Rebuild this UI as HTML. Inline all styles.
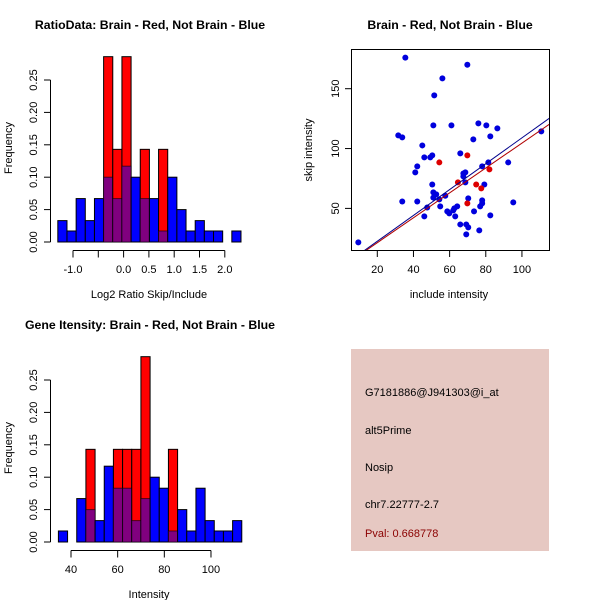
<!DOCTYPE html>
<html><head><meta charset="utf-8"><style>
html,body{margin:0;padding:0;background:#fff;}
svg{display:block;font-family:"Liberation Sans",Arial,sans-serif;}
</style></head><body>
<svg id="chart" width="600" height="600" viewBox="0 0 600 600" xmlns="http://www.w3.org/2000/svg">
<rect width="600" height="600" fill="#fff"/>
<g id="p1"></g>
<g id="p2"></g>
<g id="p3"></g>
<g id="p4">
<rect x="351" y="349" width="198" height="202" fill="#e6c8c2"/>
<text x="365" y="396" font-size="11" fill="#000">G7181886@J941303@i_at</text>
<text x="365" y="434" font-size="11" fill="#000">alt5Prime</text>
<text x="365" y="471" font-size="11" fill="#000">Nosip</text>
<text x="365" y="508" font-size="11" fill="#000">chr7.22777-2.7</text>
<text x="365" y="537" font-size="11" fill="#8b0000">Pval: 0.668778</text>
</g>
</svg>
<script>
const ratioBlue=[0.033,0.017,0.067,0.033,0.067,0.1,0.067,0.117,0.1,0.067,0.067,0.017,0.1,0.05,0.017,0.033,0.017,0.017,0,0.017];
const ratioRed=[0,0,0,0,0,0.286,0.143,0.286,0,0.143,0,0.143,0,0,0,0,0,0,0,0];
const ratioBreakStart=-1.3, ratioBinWidth=0.181;
const ratioXTicks=[-1.0,-0.5,0.0,0.5,1.0,1.5,2.0];
const ratioXLabels=["-1.0","","0.0","0.5","1.0","1.5","2.0"];
const intBlue=[0.017,0,0.067,0.05,0.033,0.117,0.083,0.083,0.033,0.067,0.1,0.083,0.017,0.05,0.017,0.083,0.033,0.017,0.017,0.033];
const intRed=[0,0,0,0.143,0,0,0.143,0.143,0.143,0.286,0,0,0.143,0,0,0,0,0,0,0];
const intBreakStart=34.6, intBinWidth=3.93;
const intXTicks=[40,60,80,100];
const freqTicks=[0,0.05,0.1,0.15,0.2,0.25];
const freqLabels=["0.00","0.05","0.10","0.15","0.20","0.25"];
const blueX=[9.5,35.5,69.8,56,51.5,51,61,75.9,80.3,86.4,82.5,73.1,31.6,33.8,44.9,46,49.3,50.4,65.9,81.4,92.4,110.7,42.1,41,78,67.6,68.7,67.6,50.4,79.2,68.7,51,52.6,51,54.3,33.8,42.1,70.3,78,78,76.9,95.2,54.8,47.6,64.2,62.6,62,58.7,59.8,63.1,73.5,46,82.5,65.9,69.2,70.3,76.4,69.2,57.6];
const blueY=[21.6,176,170,158.6,144.4,119.4,119.4,121,119.4,116.9,110.2,107.7,111,109.3,102.6,92.6,92.6,94.3,96,88.4,88.4,114.3,85.1,80.1,85.1,79.2,80.1,76.7,70,70,71.7,63.4,61.7,59,57.5,55.8,55.8,58.4,56.7,54.2,51.7,55,51.7,50.8,51.7,50,48.3,47.5,45.8,43.3,47.5,43.3,44.2,36.6,36.6,34.1,31.6,28.3,60.6];
const redX=[54.3,69.8,64.6,74.7,77.5,82,69.8];
const redY=[88.4,94.3,71.7,70,66.7,82.6,54.2];
const blueFit=[0.94,1.08];
const redFit=[0.54,1.04];
const scatXTicks=[20,40,60,80,100];
const scatYTicks=[50,100,150];

const NS="http://www.w3.org/2000/svg";
function mk(parent,tag,attrs,text){const e=document.createElementNS(NS,tag);for(const k in attrs)e.setAttribute(k,attrs[k]);if(text!==undefined)e.textContent=text;parent.appendChild(e);return e;}

function hist(g,oy,title,blue,red,start,w,xs,xT,xL,xlab){
  const y0=oy+242, py=(oy+242-(oy+80))/0.25;
  const Y=v=>y0-v*py;
  const X=v=>xs.a+(v-xs.v0)*xs.k;
  let t=mk(g,'text',{x:150,y:oy+29,'text-anchor':'middle','font-size':12.3,'font-weight':'bold'},title);
  
  
  for(let i=0;i<blue.length;i++){
    const x1=X(start+i*w), x2=X(start+(i+1)*w), b=blue[i], r=red[i];
    const hi=Math.max(b,r), lo=Math.min(b,r);
    if(hi>0){
      const r1=mk(g,'rect',{x:x1,y:Y(hi),width:x2-x1,height:Y(0)-Y(hi),fill:b>=r?'#0000ff':'#ff0000',stroke:'#000','stroke-width':1});
      
      
    }
    if(lo>0){
      const r2=mk(g,'rect',{x:x1,y:Y(lo),width:x2-x1,height:Y(0)-Y(lo),fill:'#80007f',stroke:'#000','stroke-width':1,'stroke-opacity':0.6});
      
      
    }
  }
  mk(g,'line',{x1:50.5,y1:Y(0),x2:50.5,y2:Y(0.25),stroke:'#000'});
  freqTicks.forEach((v,i)=>{
    mk(g,'line',{x1:44,y1:Y(v),x2:50.5,y2:Y(v),stroke:'#000'});
    const tl=mk(g,'text',{x:0,y:0,'font-size':11,'text-anchor':'middle',transform:`translate(37,${Y(v)}) rotate(-90)`},freqLabels[i]);
    
    
  });
  const xa=oy+250.5;
  mk(g,'line',{x1:X(xT[0]),y1:xa,x2:X(xT[xT.length-1]),y2:xa,stroke:'#000'});
  xT.forEach((v,i)=>{
    mk(g,'line',{x1:X(v),y1:xa,x2:X(v),y2:xa+7,stroke:'#000'});
    const tl=mk(g,'text',{x:X(v),y:oy+273,'font-size':11,'text-anchor':'middle'},xL[i]);
    
    
  });
  const xl=mk(g,'text',{x:149,y:oy+298,'font-size':11,'text-anchor':'middle'},xlab);
  
  
  const yl=mk(g,'text',{x:0,y:0,'font-size':11,'text-anchor':'middle',transform:`translate(12,${oy+148}) rotate(-90)`},'Frequency');
  
  
}
hist(document.getElementById('p1'),0,'RatioData: Brain - Red, Not Brain - Blue',ratioBlue,ratioRed,ratioBreakStart,ratioBinWidth,{a:73,v0:-1,k:50.6},ratioXTicks,ratioXLabels,'Log2 Ratio Skip/Include');
hist(document.getElementById('p3'),300,'Gene Itensity: Brain - Red, Not Brain - Blue',intBlue,intRed,intBreakStart,intBinWidth,{a:71,v0:40,k:2.333},intXTicks,intXTicks.map(String),'Intensity');

(function(){
  const g=document.getElementById('p2');
  const L=351,R=549,T=49,B=250;
  const X=v=>377.3+(v-20)*1.808;
  const Y=v=>88.7-(v-150)*1.197;
  let t=mk(g,'text',{x:450,y:29,'text-anchor':'middle','font-size':12.3,'font-weight':'bold'},'Brain - Red, Not Brain - Blue');
  
  
  mk(g,'clipPath',{id:'sc'}).appendChild(document.createElementNS(NS,'rect'));
  const cr=g.querySelector('#sc rect');cr.setAttribute('x',L);cr.setAttribute('y',T);cr.setAttribute('width',R-L);cr.setAttribute('height',B-T);
  const pts=mk(g,'g',{'clip-path':'url(#sc)'});
  blueX.forEach((x,i)=>{
    const c=mk(pts,'circle',{cx:X(x),cy:Y(blueY[i]),r:3,fill:'#0000dd'});
    
    
  });
  redX.forEach((x,i)=>{
    const c=mk(pts,'circle',{cx:X(x),cy:Y(redY[i]),r:3,fill:'#dd0000'});
    
    
  });
  [[blueFit,'#00008b','fit-line-not-brain'],[redFit,'#b00000','fit-line-brain']].forEach(([f,col,n])=>{
    const l=mk(pts,'line',{x1:X(0),y1:Y(f[0]),x2:X(130),y2:Y(f[0]+f[1]*130),stroke:col,'stroke-width':1});
    
    
  });
  mk(g,'rect',{x:L+0.5,y:T+0.5,width:R-L,height:B-T,fill:'none',stroke:'#000'});
  scatXTicks.forEach(v=>{
    mk(g,'line',{x1:X(v),y1:B,x2:X(v),y2:B+7,stroke:'#000'});
    const tl=mk(g,'text',{x:X(v),y:273,'font-size':11,'text-anchor':'middle'},String(v));
    
    
  });
  scatYTicks.forEach(v=>{
    mk(g,'line',{x1:L-6,y1:Y(v),x2:L,y2:Y(v),stroke:'#000'});
    const tl=mk(g,'text',{x:0,y:0,'font-size':11,'text-anchor':'middle',transform:`translate(339,${Y(v)}) rotate(-90)`},String(v));
    
    
  });
  const xl=mk(g,'text',{x:449,y:298,'font-size':11,'text-anchor':'middle'},'include intensity');
  
  
  const yl=mk(g,'text',{x:0,y:0,'font-size':11,'text-anchor':'middle',transform:'translate(312,150) rotate(-90)'},'skip intensity');
  
  
})();
</script>
</body></html>
